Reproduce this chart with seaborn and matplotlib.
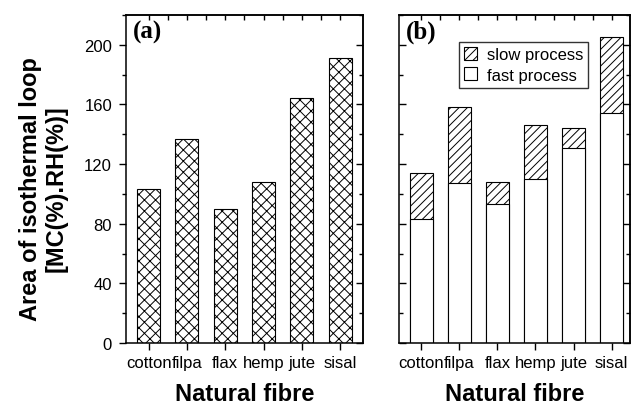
import numpy as np
import pandas as pd
import matplotlib
matplotlib.use("Agg")
import matplotlib.pyplot as plt
from matplotlib.patches import Patch
from matplotlib.ticker import MultipleLocator
import seaborn as sns

# Fibre categories and hysteresis loop areas
fibres = ["cotton", "filpa", "flax", "hemp", "jute", "sisal"]
loop_area = [103, 137, 90, 108, 164, 191]          # panel (a)
loop_total = [114, 158, 108, 146, 144, 205]        # panel (b): fast + slow
loop_fast = [83, 107, 93, 110, 131, 154]           # panel (b): fast process
y_ticks = [0, 40, 80, 120, 160, 200]

sns.set_theme(style="white")
plt.rcParams["font.family"] = ["Liberation Sans", "DejaVu Sans"]
plt.rcParams["hatch.linewidth"] = 0.7
plt.rcParams["axes.linewidth"] = 1.1
for key in ("text.color", "axes.labelcolor", "xtick.color", "ytick.color",
            "axes.edgecolor"):
    plt.rcParams[key] = "black"

df = pd.DataFrame({"fibre": fibres, "area": loop_area,
                   "total": loop_total, "fast": loop_fast})

W, H = 631, 406
fig = plt.figure(figsize=(W / 100, H / 100), dpi=100)
ax_a = fig.add_axes([126 / W, (H - 344) / H, (362.7 - 126) / W, 328 / H])
ax_b = fig.add_axes([398.7 / W, (H - 344) / H, (630.3 - 398.7) / W, 328 / H])

bar_kw = dict(width=0.6, edgecolor="black", linewidth=0.8, saturation=1)

sns.barplot(data=df, x="fibre", y="area", ax=ax_a, color="white",
            hatch="xxx", **bar_kw)
sns.barplot(data=df, x="fibre", y="total", ax=ax_b, color="white",
            hatch="////", **bar_kw)
sns.barplot(data=df, x="fibre", y="fast", ax=ax_b, color="white", **bar_kw)

for ax, xmax in ((ax_a, 5.59), (ax_b, 5.49)):
    ax.set_ylim(0, 220)
    ax.set_xlim(-0.59, xmax)
    ax.set_yticks(y_ticks)
    ax.yaxis.set_minor_locator(MultipleLocator(20))
    for sp in ax.spines.values():
        sp.set_visible(True)
        sp.set_color("black")
        sp.set_linewidth(1.1)
    ax.tick_params(axis="x", which="major", direction="out", length=5,
                   width=1, bottom=True, top=False, pad=4, labelsize=12,
                   colors="black")
    ax.set_xlabel("Natural fibre", fontsize=17, fontweight="bold",
                  labelpad=8, color="black")
    ax.set_ylabel("")
    # mirrored ticks on the top spine every half category
    top = ax.secondary_xaxis("top")
    top.set_xticks(np.arange(0, 5.01, 0.5))
    top.tick_params(direction="in", length=3.5, width=1, labeltop=False)
    top.spines["top"].set_linewidth(1.1)
    # mirrored ticks on the right spine
    right = ax.secondary_yaxis("right")
    right.set_yticks(y_ticks)
    right.yaxis.set_minor_locator(MultipleLocator(20))
    right.tick_params(which="major", direction="in", length=5, width=1,
                      labelright=False)
    right.tick_params(which="minor", direction="in", length=3, width=1)
    right.spines["right"].set_linewidth(1.1)

ax_a.tick_params(axis="y", which="major", direction="out", length=5, width=1,
                 left=True, right=False, labelsize=12, pad=5, colors="black")
ax_a.tick_params(axis="y", which="minor", direction="out", length=3, width=1,
                 left=True, right=False)
ax_b.tick_params(axis="y", which="major", direction="in", length=5, width=1,
                 left=True, right=False, labelleft=False)
ax_b.tick_params(axis="y", which="minor", direction="in", length=3, width=1,
                 left=True, right=False)

for ax, tag in ((ax_a, "(a)"), (ax_b, "(b)")):
    ax.text(0.03, 0.985, tag, transform=ax.transAxes, ha="left", va="top",
            fontsize=18, fontweight="bold", family="Liberation Serif",
            color="black")

handles = [Patch(facecolor="white", edgecolor="black", hatch="////",
                 linewidth=0.8, label="slow process"),
           Patch(facecolor="white", edgecolor="black", linewidth=0.8,
                 label="fast process")]
leg = ax_b.legend(handles=handles, loc="upper left",
                  bbox_to_anchor=(0.259, 0.917), borderaxespad=0,
                  fontsize=12, frameon=True, fancybox=False,
                  handlelength=0.8, handleheight=0.8, handletextpad=0.6,
                  labelspacing=0.3, borderpad=0.3)
leg.get_frame().set_edgecolor("black")
leg.get_frame().set_linewidth(1.0)
for t in leg.get_texts():
    t.set_color("black")

fig.text(43 / W, 1 - 189 / H, "Area of isothermal loop\n[MC(%).RH(%)]",
         rotation=90, ha="center", va="center", fontsize=17,
         fontweight="bold", linespacing=1.15, color="black")

fig.savefig("out.png", dpi=100, facecolor="white")
